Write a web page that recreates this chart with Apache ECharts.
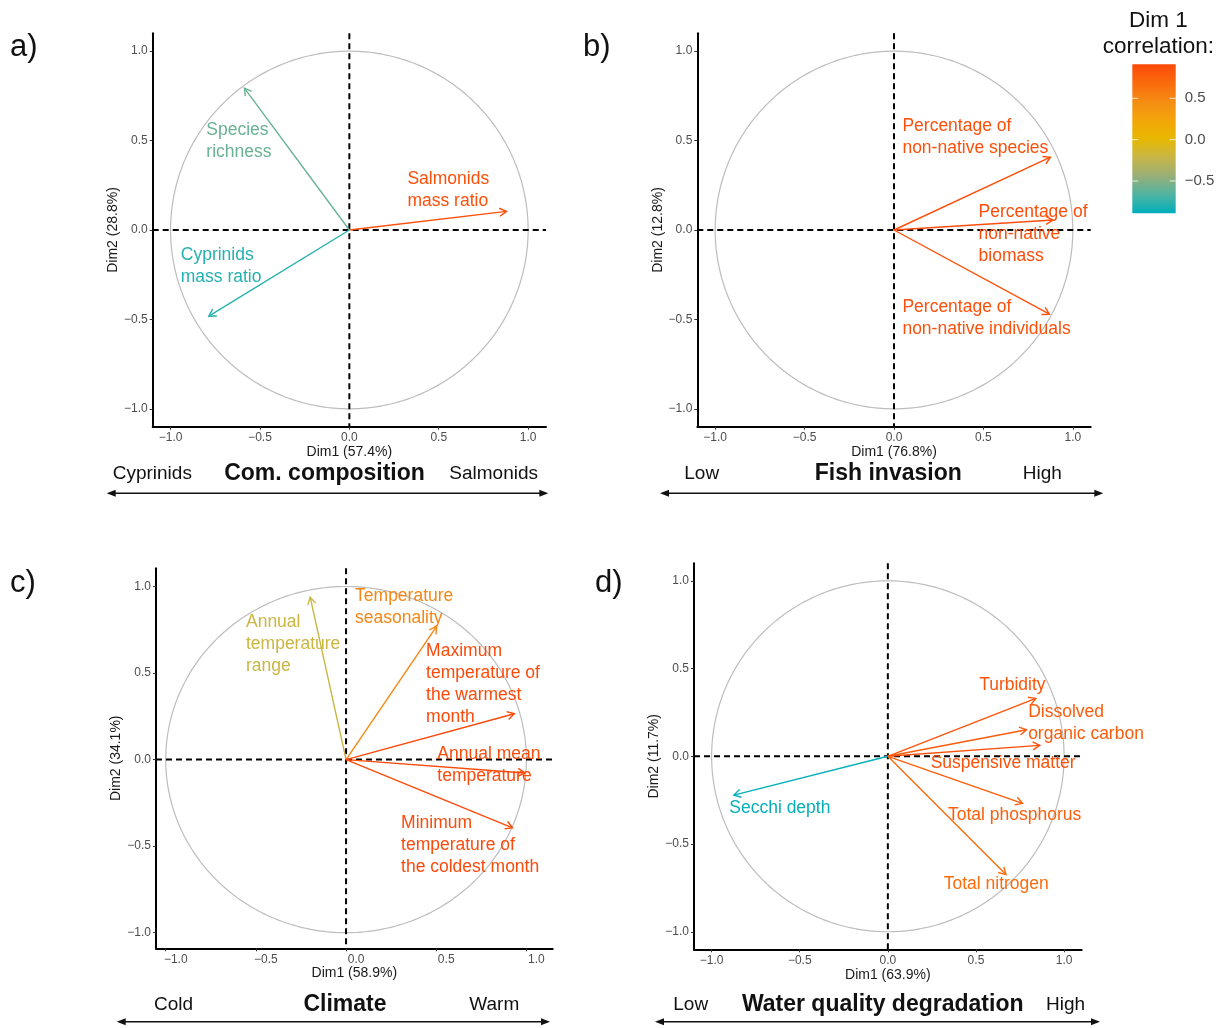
<!DOCTYPE html>
<html><head><meta charset="utf-8">
<script src="https://cdn.jsdelivr.net/npm/echarts@6/dist/echarts.min.js"></script>
<style>html,body{margin:0;padding:0;background:#fff}#chart{width:1225px;height:1028px}</style>
</head><body><div id="chart"></div>
<script>
const FONT = '"Liberation Sans", Arial, Helvetica, sans-serif';

// ---- tick labels ----
const axisTicks = [-1, -0.5, 0, 0.5, 1];
const legendTicks = [-0.5, 0, 0.5];

// ---- a) community composition ----
const compVars = ['Species\nrichness', 'Salmonids\nmass ratio', 'Cyprinids\nmass ratio'];
const compDim1 = [-0.587, 0.879, -0.786];
const compDim2 = [0.793, 0.104, -0.482];

// ---- b) fish invasion ----
const invVars = ['Percentage of\nnon-native species', 'Percentage of\nnon-native\nbiomass', 'Percentage of\nnon-native individuals'];
const invDim1 = [0.875, 0.888, 0.869];
const invDim2 = [0.407, 0.056, -0.471];

// ---- c) climate ----
const climVars = ['Annual\ntemperature\nrange', 'Temperature\nseasonality', 'Maximum\ntemperature of\nthe warmest\nmonth', 'Annual mean\ntemperature', 'Minimum\ntemperature of\nthe coldest month'];
const climDim1 = [-0.199, 0.502, 0.933, 0.992, 0.923];
const climDim2 = [0.938, 0.769, 0.265, -0.077, -0.394];

// ---- d) water quality ----
const wqVars = ['Turbidity', 'Dissolved\norganic carbon', 'Suspensive matter', 'Total phosphorus', 'Total nitrogen', 'Secchi depth'];
const wqDim1 = [0.840, 0.787, 0.862, 0.764, 0.670, -0.874];
const wqDim2 = [0.330, 0.151, 0.062, -0.268, -0.674, -0.221];

// ---- colour scale (Dim 1 correlation) ----
const corrMin = -0.891, corrMax = 0.911;
const corrColors = ['#00AFBB', '#4FB4A2', '#98AF78', '#C8B646', '#E7B800', '#F3A50A', '#F58C14', '#FA6A0C', '#FC4A0A'];

// ---- label anchors (data units, left / first-line centre) ----
const compLabelAt = [[-0.80, 0.56], [0.325, 0.284], [-0.943, -0.139]];
const invLabelAt = [[0.047, 0.583], [0.473, 0.101], [0.047, -0.432]];
const climLabelAt = [[-0.555, 0.791], [0.050, 0.945], [0.444, 0.629], [0.506, 0.031], [0.305, -0.368]];
const wqLabelAt = [[0.518, 0.408], [0.796, 0.251], [0.243, -0.041], [0.341, -0.334], [0.317, -0.726], [-0.900, -0.293]];

const panels = [
  {grid: {left: 152.7, top: 33.3, width: 393.3, height: 393.4}, x: [-1.1, 1.1], y: [-1.1, 1.1], xName: 'Dim1 (57.4%)', yName: 'Dim2 (28.8%)', xGap: 18, yGap: 27, vars: compVars, d1: compDim1, d2: compDim2, lab: compLabelAt, shift: 0},
  {grid: {left: 697.3, top: 33.3, width: 393.4, height: 393.4}, x: [-1.1, 1.1], y: [-1.1, 1.1], xName: 'Dim1 (76.8%)', yName: 'Dim2 (12.8%)', xGap: 18, yGap: 24, vars: invVars, d1: invDim1, d2: invDim2, lab: invLabelAt, shift: 0},
  {grid: {left: 156, top: 568.3, width: 396.7, height: 380}, x: [-1.054, 1.146], y: [-1.09, 1.105], xName: 'Dim1 (58.9%)', yName: 'Dim2 (34.1%)', xGap: 18, yGap: 30, vars: climVars, d1: climDim1, d2: climDim2, lab: climLabelAt, shift: 10},
  {grid: {left: 694, top: 563.3, width: 387.7, height: 386}, x: [-1.1, 1.1], y: [-1.1, 1.1], xName: 'Dim1 (63.9%)', yName: 'Dim2 (11.7%)', xGap: 19, yGap: 26, vars: wqVars, d1: wqDim1, d2: wqDim2, lab: wqLabelAt, shift: 0}
];

const fmt = v => (v < 0 ? '\u2212' : '') + Math.abs(v).toFixed(1);

const grids = [], xAxes = [], yAxes = [], series = [], vmSeries = [];

panels.forEach((p, i) => {
  grids.push(p.grid);
  xAxes.push({
    gridIndex: i, type: 'value', min: p.x[0], max: p.x[1],
    axisLine: {show: true, onZero: false, lineStyle: {color: '#000', width: 2}},
    axisTick: {show: true, length: 3, customValues: axisTicks, lineStyle: {color: '#333', width: 1}},
    axisLabel: {customValues: axisTicks, formatter: fmt, color: '#4D4D4D', fontSize: 12, fontFamily: FONT, margin: 5,
      padding: p.shift ? [0, 0, 0, 2 * p.shift] : 0},
    splitLine: {show: false},
    name: p.xName, nameLocation: 'middle', nameGap: p.xGap,
    nameTextStyle: {color: '#1a1a1a', fontSize: 14, fontFamily: FONT}
  });
  yAxes.push({
    gridIndex: i, type: 'value', min: p.y[0], max: p.y[1],
    axisLine: {show: true, onZero: false, lineStyle: {color: '#000', width: 2}},
    axisTick: {show: true, length: 3, customValues: axisTicks, lineStyle: {color: '#333', width: 1}},
    axisLabel: {customValues: axisTicks, formatter: fmt, color: '#4D4D4D', fontSize: 12, fontFamily: FONT, margin: 5},
    splitLine: {show: false},
    name: p.yName, nameLocation: 'middle', nameGap: p.yGap, nameRotate: 90,
    nameTextStyle: {color: '#1a1a1a', fontSize: 14, fontFamily: FONT}
  });

  // correlation circle + dashed zero lines
  series.push({
    type: 'custom', xAxisIndex: i, yAxisIndex: i, z: 1, silent: true,
    data: [[0, 0]],
    renderItem: (params, api) => {
      const cs = params.coordSys;
      const pts = [];
      for (let k = 0; k <= 360; k++) {
        const t = k * Math.PI / 180;
        pts.push(api.coord([Math.cos(t), Math.sin(t)]));
      }
      const o = api.coord([0, 0]);
      return {type: 'group', children: [
        {type: 'polyline', shape: {points: pts}, style: {stroke: '#BDBDBD', lineWidth: 1.2, fill: null}},
        {type: 'line', shape: {x1: cs.x, y1: o[1], x2: cs.x + cs.width, y2: o[1]}, style: {stroke: '#000', lineWidth: 2, lineDash: [6, 4]}},
        {type: 'line', shape: {x1: o[0], y1: cs.y, x2: o[0], y2: cs.y + cs.height}, style: {stroke: '#000', lineWidth: 2, lineDash: [6, 4]}}
      ]};
    }
  });

  const rows = p.d1.map((v, k) => [v, p.d2[k]]);
  // arrows
  vmSeries.push(series.length);
  series.push({
    type: 'custom', xAxisIndex: i, yAxisIndex: i, z: 2, silent: true,
    encode: {x: 0, y: 1},
    data: rows,
    renderItem: (params, api) => {
      const p0 = api.coord([0, 0]);
      const p1 = api.coord([api.value(0), api.value(1)]);
      const c = api.visual('color');
      const ang = Math.atan2(p1[1] - p0[1], p1[0] - p0[0]);
      const L = 8, a = Math.PI / 6;
      const h1 = [p1[0] - L * Math.cos(ang - a), p1[1] - L * Math.sin(ang - a)];
      const h2 = [p1[0] - L * Math.cos(ang + a), p1[1] - L * Math.sin(ang + a)];
      return {type: 'group', children: [
        {type: 'line', shape: {x1: p0[0], y1: p0[1], x2: p1[0], y2: p1[1]}, style: {stroke: c, lineWidth: 1.4}},
        {type: 'polyline', shape: {points: [h1, p1, h2]}, style: {stroke: c, lineWidth: 1.4, fill: null}}
      ]};
    }
  });
  // labels
  vmSeries.push(series.length);
  series.push({
    type: 'custom', xAxisIndex: i, yAxisIndex: i, z: 3, silent: true,
    encode: {x: 0, y: 1},
    data: rows,
    renderItem: (params, api) => {
      const k = params.dataIndex;
      const q = api.coord(p.lab[k]);
      return {type: 'text', x: q[0], y: q[1] - 11, style: {
        text: p.vars[k], fill: api.visual('color'), fontSize: 17.5, fontFamily: FONT,
        align: 'left', verticalAlign: 'top', lineHeight: 22}};
    }
  });
});

// legend colour bar
grids.push({left: 1132.3, top: 64.3, width: 43.4, height: 149});
xAxes.push({gridIndex: 4, type: 'value', min: 0, max: 1, show: false});
yAxes.push({gridIndex: 4, type: 'value', min: corrMin, max: corrMax, position: 'right',
  axisLine: {show: false}, axisTick: {show: false}, splitLine: {show: false},
  axisLabel: {customValues: legendTicks, formatter: fmt,
    color: '#4D4D4D', fontSize: 15, fontFamily: FONT, margin: 9}});
series.push({
  type: 'custom', xAxisIndex: 4, yAxisIndex: 4, silent: true, data: [[0, 0]],
  renderItem: (params, api) => {
    const tl = api.coord([0, corrMax]), br = api.coord([1, corrMin]);
    const n = corrColors.length - 1;
    const stops = corrColors.map((c, k) => ({offset: 1 - k / n, color: c})).reverse();
    const kids = [{type: 'rect', shape: {x: tl[0], y: tl[1], width: br[0] - tl[0], height: br[1] - tl[1]},
      style: {fill: new echarts.graphic.LinearGradient(0, 0, 0, 1, stops)}}];
    legendTicks.forEach(t => {
      const y = api.coord([0, t])[1];
      kids.push({type: 'line', shape: {x1: tl[0], y1: y, x2: tl[0] + 6, y2: y}, style: {stroke: 'rgba(255,255,255,0.8)', lineWidth: 1}});
      kids.push({type: 'line', shape: {x1: br[0] - 6, y1: y, x2: br[0], y2: y}, style: {stroke: 'rgba(255,255,255,0.8)', lineWidth: 1}});
    });
    return {type: 'group', children: kids};
  }
});

// ---- annotations ----
const graphics = [];
function txt(x, y, text, size, align, bold) {
  graphics.push({type: 'text', x, y, style: {text, fontSize: size, fontFamily: FONT, fontWeight: bold ? 'bold' : 'normal',
    fill: '#111', align, verticalAlign: 'middle'}});
}
function dblArrow(x1, x2, y) {
  graphics.push({type: 'line', shape: {x1: x1 + 4, y1: y, x2: x2 - 4, y2: y}, style: {stroke: '#111', lineWidth: 1.5}});
  graphics.push({type: 'polygon', shape: {points: [[x1, y], [x1 + 9, y - 3.5], [x1 + 9, y + 3.5]]}, style: {fill: '#111'}});
  graphics.push({type: 'polygon', shape: {points: [[x2, y], [x2 - 9, y - 3.5], [x2 - 9, y + 3.5]]}, style: {fill: '#111'}});
}
txt(10, 47, 'a)', 31, 'left');
txt(583, 47, 'b)', 31, 'left');
txt(10, 583, 'c)', 31, 'left');
txt(595, 583, 'd)', 31, 'left');

txt(112.7, 473.3, 'Cyprinids', 19, 'left');
txt(324.5, 473.3, 'Com. composition', 23, 'center', true);
txt(449.3, 473.3, 'Salmonids', 19, 'left');
dblArrow(106.7, 548.3, 493.3);

txt(684.3, 473.3, 'Low', 19, 'left');
txt(888.3, 473.3, 'Fish invasion', 23, 'center', true);
txt(1022.7, 473.3, 'High', 19, 'left');
dblArrow(660, 1103.3, 493.3);

txt(154, 1005, 'Cold', 19, 'left');
txt(345, 1005, 'Climate', 23, 'center', true);
txt(469.3, 1005, 'Warm', 19, 'left');
dblArrow(116.7, 550, 1021.7);

txt(673.3, 1005, 'Low', 19, 'left');
txt(882.7, 1005, 'Water quality degradation', 23, 'center', true);
txt(1046, 1005, 'High', 19, 'left');
dblArrow(655, 1100, 1021.7);

graphics.push({type: 'text', x: 1158.3, y: 8, style: {text: 'Dim 1\ncorrelation:', fontSize: 22.5, fontFamily: FONT, fill: '#111',
  align: 'center', verticalAlign: 'top', lineHeight: 26}});

const chart = echarts.init(document.getElementById('chart'), null, {renderer: 'canvas'});
chart.setOption({
  backgroundColor: '#fff',
  animation: false,
  grid: grids, xAxis: xAxes, yAxis: yAxes,
  visualMap: {type: 'continuous', show: false, min: corrMin, max: corrMax, dimension: 0,
    seriesIndex: vmSeries, inRange: {color: corrColors}},
  series,
  graphic: graphics
});
</script></body></html>
